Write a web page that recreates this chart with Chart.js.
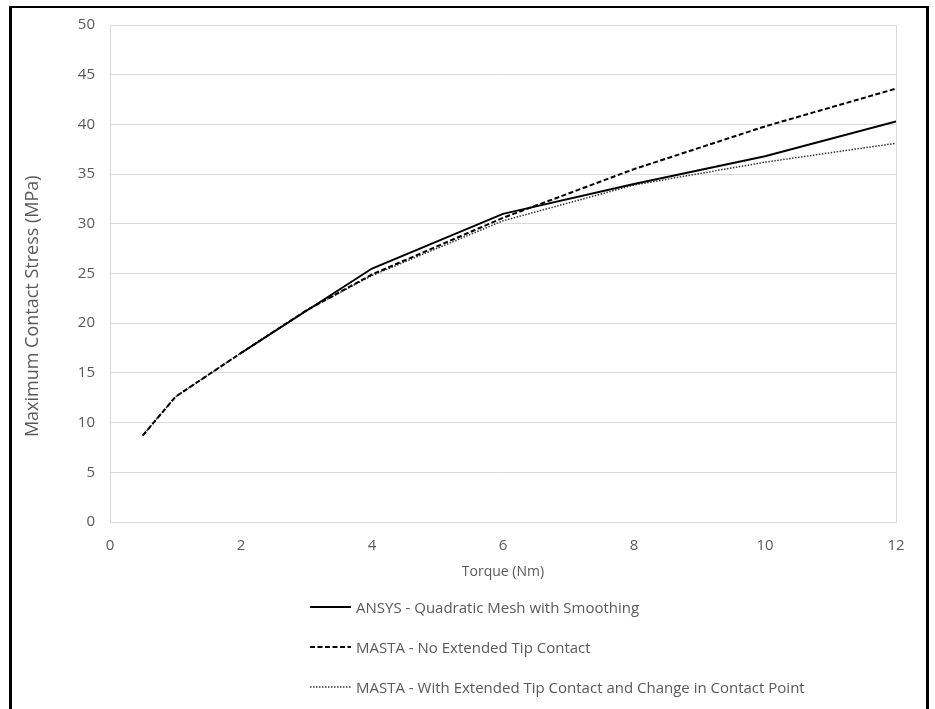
<!DOCTYPE html>
<html>
<head>
<meta charset="utf-8">
<script src="https://cdn.jsdelivr.net/npm/chart.js@4"></script>
<style>
    body { margin: 0; background: #fff; width: 935px; height: 709px; overflow: hidden; position: relative; }
    #frame { position: absolute; left: 9px; top: 6px; width: 920px; height: 720px; box-sizing: border-box;
             border-left: 3px solid #000; border-right: 3px solid #000; border-top: 2px solid #000; }
    #wrap { position: absolute; left: 0; top: 0; width: 935px; height: 590px; }
    #legend { position: absolute; left: 310px; top: 596px; font-family: "Open Sans", sans-serif;
              font-size: 15px; color: #595959; }
    .item { display: flex; align-items: center; height: 22px; margin-bottom: 18px; }
    .item canvas { margin-right: 4px; }
</style>
</head>
<body>
<div id="frame"></div>
<div id="wrap"><canvas id="chart"></canvas></div>
<div id="legend"></div>
<script>
// valores
const torqueAnsys = [2, 4, 6, 8, 10, 12];
const stressAnsys = [17.0, 25.5, 31.0, 34.0, 36.8, 40.3];

const torqueMasta = [0.5, 1, 2, 3, 4, 6, 8, 10, 12];
const stressNoTip = [8.7, 12.6, 17.0, 21.3, 24.9, 30.6, 35.5, 39.8, 43.6];
const stressWithTip = [8.7, 12.6, 17.0, 21.3, 24.8, 30.3, 33.9, 36.2, 38.1];

const xTicks = [0, 2, 4, 6, 8, 10, 12];
const yTicks = [0, 5, 10, 15, 20, 25, 30, 35, 40, 45, 50];

const seriesNames = [
    'ANSYS - Quadratic Mesh with Smoothing',
    'MASTA - No Extended Tip Contact',
    'MASTA - With Extended Tip Contact and Change in Contact Point'
];

const toPoints = (xs, ys) => xs.map((x, i) => ({ x, y: ys[i] }));

const family = '"Open Sans", sans-serif';
const tickFont = { family, size: 15 };
const grey = '#595959';
const gridGrey = '#d9d9d9';

const ctx = document.getElementById('chart').getContext('2d');
const chart = new Chart(ctx, {
    type: 'line',
    data: {
        datasets: [
            {
                label: seriesNames[0],
                data: toPoints(torqueAnsys, stressAnsys),
                borderColor: '#000',
                borderWidth: 2,
                pointRadius: 0
            },
            {
                label: seriesNames[1],
                data: toPoints(torqueMasta, stressNoTip),
                borderColor: '#000',
                borderWidth: 2,
                borderDash: [5, 2.5],
                pointRadius: 0
            },
            {
                label: seriesNames[2],
                data: toPoints(torqueMasta, stressWithTip),
                borderColor: '#333',
                borderWidth: 1.5,
                borderDash: [1.5, 1.5],
                pointRadius: 0
            }
        ]
    },
    options: {
        responsive: true,
        maintainAspectRatio: false,
        animation: false,
        layout: { padding: { left: 0, top: 25, right: 39, bottom: 0 } },
        plugins: {
            legend: { display: false },
            tooltip: { enabled: false }
        },
        scales: {
            x: {
                type: 'linear',
                min: 0,
                max: 12,
                afterBuildTicks: s => { s.ticks = xTicks.map(v => ({ value: v })); },
                afterFit: s => { s.height = 68; },
                ticks: { color: grey, font: tickFont, padding: 15 },
                grid: {
                    drawTicks: false,
                    color: c => (c.tick && c.tick.value === 12 ? gridGrey : 'transparent')
                },
                border: { color: gridGrey },
                title: { display: true, text: 'Torque (Nm)', color: grey, font: { family, size: 14 }, padding: { top: 0, bottom: 10 } }
            },
            y: {
                min: 0,
                max: 50,
                afterBuildTicks: s => { s.ticks = yTicks.map(v => ({ value: v })); },
                afterFit: s => { s.width = 110; },
                ticks: { color: grey, font: tickFont, padding: 15 },
                grid: { drawTicks: false, color: gridGrey },
                border: { color: gridGrey },
                title: {
                    display: true,
                    // espaços no fim empurram o título um pouco para baixo
                    text: 'Maximum Contact Stress (MPa)              ',
                    color: grey,
                    font: { family, size: 18 },
                    padding: { top: 22, bottom: 0 }
                }
            }
        }
    }
});

// legenda em HTML, uma linha por série
const legendEl = document.getElementById('legend');
chart.data.datasets.forEach(ds => {
    const item = document.createElement('div');
    item.className = 'item';
    const c = document.createElement('canvas');
    c.width = 42; c.height = 10;
    const g = c.getContext('2d');
    g.strokeStyle = ds.borderColor;
    g.lineWidth = ds.borderWidth;
    g.setLineDash(ds.borderDash || []);
    g.beginPath();
    g.moveTo(0, 5);
    g.lineTo(41, 5);
    g.stroke();
    item.appendChild(c);
    const t = document.createElement('span');
    t.textContent = ds.label;
    item.appendChild(t);
    legendEl.appendChild(item);
});
</script>
</body>
</html>
